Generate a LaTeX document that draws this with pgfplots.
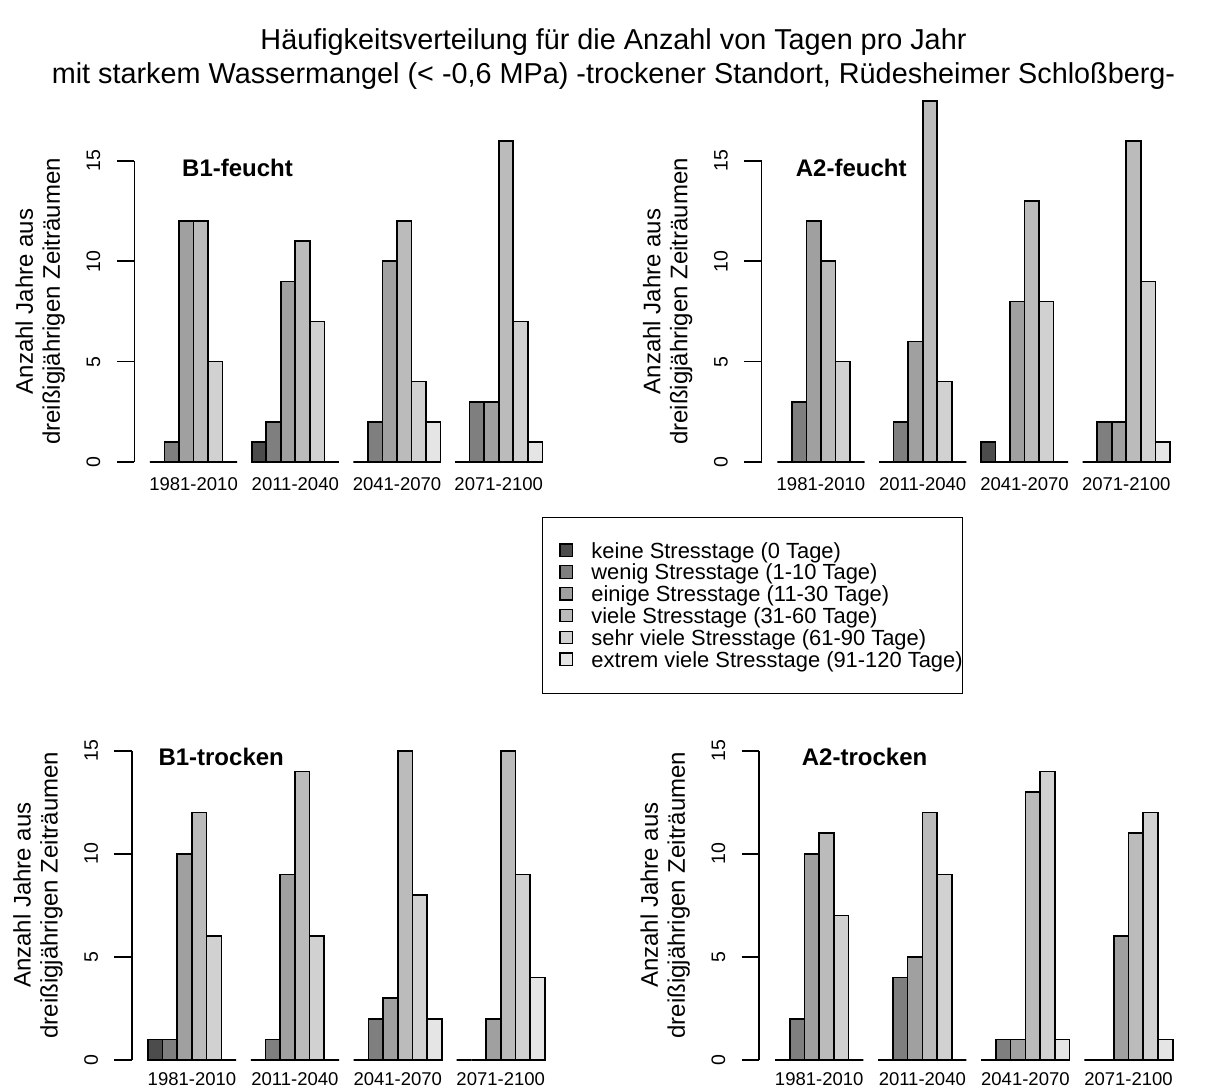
\documentclass[border=0pt]{standalone}
\usepackage{fontspec}
\setmainfont{Liberation Sans}
\usepackage{pgfplots}
\usepackage{pgfplotstable}
\pgfplotsset{compat=1.18}

% R-style grey ramp for the six stress classes
\definecolor{cKeine}{gray}{0.300}
\definecolor{cWenig}{gray}{0.498}
\definecolor{cEinige}{gray}{0.628}
\definecolor{cViele}{gray}{0.733}
\definecolor{cSehr}{gray}{0.821}
\definecolor{cExtrem}{gray}{0.900}

\newcommand\fs[1]{\fontsize{#1}{#1}\selectfont}

% number of years (out of 30) per stress class; x = centre of the period group
\pgfplotstableread{
x  keine wenig einige viele sehr extrem
4  0 1 12 12 5 0
11 1 2  9 11 7 0
18 0 2 10 12 4 2
25 0 3  3 16 7 1
}\BfeuchtTab
\pgfplotstableread{
x  keine wenig einige viele sehr extrem
4  0 3 12 10 5 0
11 0 2  6 18 4 0
18 1 0  8 13 8 0
25 0 2  2 16 9 1
}\AfeuchtTab
\pgfplotstableread{
x  keine wenig einige viele sehr extrem
4  1 1 10 12 6 0
11 0 1  9 14 6 0
18 0 2  3 15 8 2
25 0 0  2 15 9 4
}\BtrockenTab
\pgfplotstableread{
x  keine wenig einige viele sehr extrem
4  0 2 10 11  7 0
11 0 4  5 12  9 0
18 0 1  1 13 14 1
25 0 0  6 11 12 1
}\AtrockenTab

% square legend swatch, indented inside the legend box
\pgfplotsset{
  sqlegend/.style={legend image code/.code={%
    \path[draw=none,fill=none] (0pt,0pt) rectangle (49pt,0.1pt);
    \draw[##1, draw=black, line width=1.3pt] (17.6pt,-5.6pt) rectangle (30pt,6.8pt);}},
}

\newcommand\sixbars[1]{%
  \addplot[fill=cKeine,  bar shift=-2.5, sqlegend] table[x=x,y=keine]{#1};
  \addplot[fill=cWenig,  bar shift=-1.5, sqlegend] table[x=x,y=wenig]{#1};
  \addplot[fill=cEinige, bar shift=-0.5, sqlegend] table[x=x,y=einige]{#1};
  \addplot[fill=cViele,  bar shift=0.5,  sqlegend] table[x=x,y=viele]{#1};
  \addplot[fill=cSehr,   bar shift=1.5,  sqlegend] table[x=x,y=sehr]{#1};
  \addplot[fill=cExtrem, bar shift=2.5,  sqlegend] table[x=x,y=extrem]{#1};
}
% R-style y axis line, only from the first to the last tick
\newcommand\yaxisline{%
  \draw[black, line width=1.6pt] (axis cs:-0.08,0) -- (axis cs:-0.08,15);}

\pgfplotsset{
  panel/.style={
    scale only axis, clip=false, ybar,
    bar width=1,
    xmin=-0.08, xmax=29.08, ymin=-0.64, ymax=16.64,
    axis x line*=bottom, axis y line*=left,
    x axis line style={draw=none}, y axis line style={draw=none},
    xtick={4,11,18,25},
    xticklabels={1981-2010,2011-2040,2041-2070,2071-2100},
    x tick style={draw=none},
    ytick={0,5,10,15},
    tick align=outside, major tick length=17.5pt,
    y tick style={black, line width=1.6pt},
    /pgf/number format/assume math mode=true,
    xticklabel style={font=\fs{18.5}, anchor=base, yshift=1.6pt},
    yticklabel style={font=\fs{19.5}, xshift=-16.6pt, rotate=90, anchor=base},
    ylabel={Anzahl Jahre aus\\dreißigjährigen Zeiträumen},
    ylabel style={font=\fontsize{24}{27}\selectfont, align=center, anchor=center},
    every axis plot/.append style={draw=black, line width=1.6pt},
  },
}

\begin{document}
\begin{tikzpicture}
\path[use as bounding box] (0pt,0pt) rectangle (1227pt,-1090pt);

% title
\node[anchor=base, font=\fs{28.8}] at (613.5pt,-49pt)
  {Häufigkeitsverteilung für die Anzahl von Tagen pro Jahr};
\node[anchor=base, font=\fs{28.8}] at (613.5pt,-83.5pt)
  {mit starkem Wassermangel (< -0,6 MPa) -trockener Standort, Rüdesheimer Schloßberg-};

% B1 feucht
\begin{axis}[panel, at={(134.3pt,-474.8pt)}, anchor=south west,
  width=423.7pt, height=346.8pt,
  ylabel style={at={(axis description cs:-0.2219,0.5)}},
  legend style={at={(0.9615,-0.1208)}, anchor=north west, draw=black,
    line width=1.4pt, inner xsep=0pt, inner ysep=22.5pt, row sep=0pt,
    font=\fs{21.9},
    nodes={inner sep=0pt, text height=18.2pt, text depth=3.6pt},
    cells={anchor=west}},
  ]
\sixbars{\BfeuchtTab}
\yaxisline
\legend{keine Stresstage (0 Tage),wenig Stresstage (1-10 Tage),einige Stresstage (11-30 Tage),viele Stresstage (31-60 Tage),sehr viele Stresstage (61-90 Tage),extrem viele Stresstage (91-120 Tage)}
\end{axis}

% A2 feucht
\begin{axis}[panel, at={(761.6pt,-474.8pt)}, anchor=south west,
  width=424.0pt, height=346.8pt,
  ylabel style={at={(axis description cs:-0.2217,0.5)}}]
\sixbars{\AfeuchtTab}
\yaxisline
\end{axis}

% B1 trocken
\begin{axis}[panel, at={(132.0pt,-1073.2pt)}, anchor=south west,
  width=428.7pt, height=356.3pt,
  xticklabel style={yshift=3.2pt},
  ylabel style={at={(axis description cs:-0.2193,0.5)}}]
\sixbars{\BtrockenTab}
\yaxisline
\end{axis}

% A2 trocken
\begin{axis}[panel, at={(759.1pt,-1073.2pt)}, anchor=south west,
  width=429.5pt, height=356.3pt,
  xticklabel style={yshift=3.2pt},
  ylabel style={at={(axis description cs:-0.2189,0.5)}}]
\sixbars{\AtrockenTab}
\yaxisline
\end{axis}

% panel names
\begin{scope}[every node/.style={anchor=base west, inner sep=0pt, font=\fs{24}\bfseries}]
\node at (182pt,-176pt) {B1-feucht};
\node at (795.7pt,-176pt) {A2-feucht};
\node at (158.3pt,-765pt) {B1-trocken};
\node at (801.7pt,-765pt) {A2-trocken};
\end{scope}
\end{tikzpicture}
\end{document}
